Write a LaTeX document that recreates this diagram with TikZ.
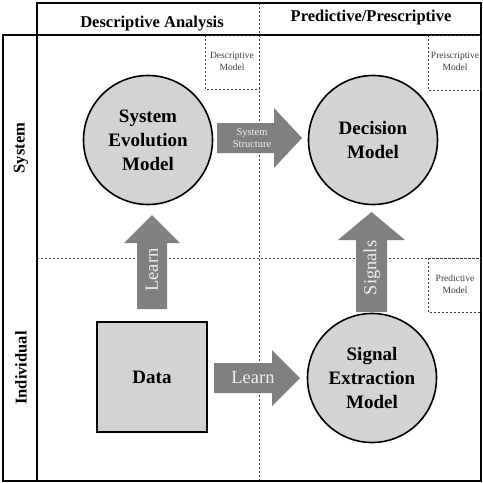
\documentclass[tikz,border=0pt]{standalone}
\usepackage{fontspec}
\setmainfont{Liberation Serif}
\usepackage{tikz}
\definecolor{modelGray}{RGB}{211,211,211}
\definecolor{arrowGray}{RGB}{128,128,128}
\definecolor{arrowText}{RGB}{238,238,238}
\definecolor{dashGray}{RGB}{60,60,60}

\begin{document}
\begin{tikzpicture}[x=1pt,y=-1pt,
    frame/.style={black, line width=1.6pt},
    divider/.style={dashGray, line width=0.6pt, dash pattern=on 2pt off 2pt},
    model/.style={circle, draw=black, line width=1.6pt, fill=modelGray, minimum size=129pt,
      inner sep=0pt, align=center, font=\fontsize{19}{24}\selectfont\bfseries},
    header/.style={font=\fontsize{16.5}{20}\selectfont\bfseries},
    kind/.style={align=center, text=dashGray, font=\fontsize{9.5}{12}\selectfont},
    arrowlabel/.style={text=arrowText, align=center, font=\fontsize{18.5}{22}\selectfont}]
        \useasboundingbox (0,0) rectangle (483,483);
        % frame and quadrants
        \draw[divider] (259,3) -- (259,481);
        \draw[divider] (37,258) -- (481,258);
        \draw[frame] (37,3) rectangle (481,481);
        \draw[frame] (37,35) -- (481,35);
        \draw[frame] (3,35) rectangle (37,481);
        \node[header] (descHead) at (152,24) {Descriptive Analysis};
        \node[header] (predHead) at (371,18) {Predictive/Prescriptive};
        \node[header, rotate=90] (systemSide) at (21,148) {System};
        \node[header, rotate=90] (individualSide) at (21,368) {Individual};
        % model kinds
        \draw[divider] (205,35) rectangle (259,89);
        \draw[divider] (428,35) rectangle (481,90);
        \draw[divider] (428,258) rectangle (481,312);
        \node[kind] (descKind) at (232,61) {Descriptive\\Model};
        \node[kind] (prescKind) at (455,61) {Preiscriptive\\Model};
        \node[kind] (predKind) at (455,284) {Predictive\\Model};
        % models
        \node[model] (evolution) at (148,140) {System\\Evolution\\Model};
        \node[model] (decision) at (373,140) {Decision\\Model};
        \node[model] (extraction) at (372,378) {Signal\\Extraction\\Model};
        \node[draw=black, line width=1.6pt, fill=modelGray, minimum size=110pt,
          font=\fontsize{19}{24}\selectfont\bfseries] (data) at (152,377) {Data};
        % arrows
        \fill[arrowGray] (217,123) -- (274,123) -- (274,108) -- (302,138)
          -- (274,168) -- (274,153) -- (217,153) -- cycle;
        \node[arrowlabel, font=\fontsize{10.5}{12}\selectfont] (structure) at (252,138) {System\\Structure};
        \fill[arrowGray] (214,363) -- (272,363) -- (272,350) -- (300,378)
          -- (272,406) -- (272,393) -- (214,393) -- cycle;
        \node[arrowlabel] (learnRight) at (253,378) {Learn};
        \fill[arrowGray] (137,309) -- (137,243) -- (124,243) -- (152,215)
          -- (180,243) -- (167,243) -- (167,309) -- cycle;
        \node[arrowlabel, rotate=90] (learnUp) at (152,270) {Learn};
        \fill[arrowGray] (356,312) -- (356,240) -- (338,240) -- (371.5,212)
          -- (405,240) -- (387,240) -- (387,312) -- cycle;
        \node[arrowlabel, rotate=90] (signals) at (372,268) {Signals};
      \end{tikzpicture}
\end{document}
